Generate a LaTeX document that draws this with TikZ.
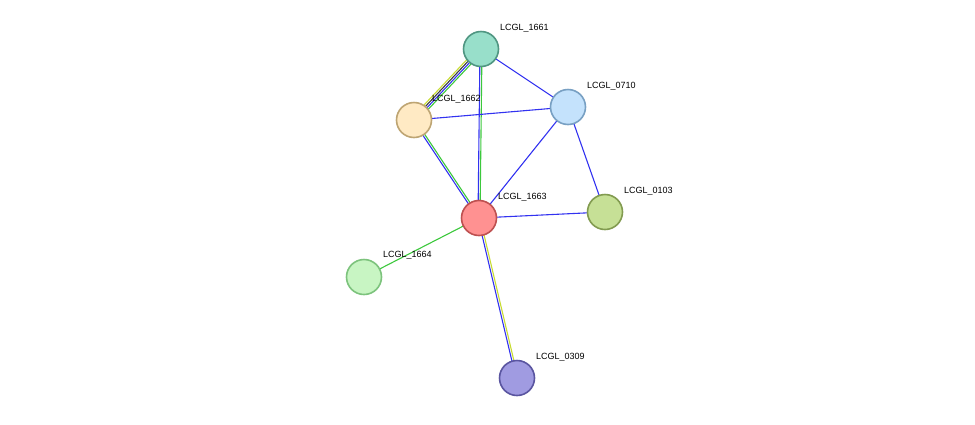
\documentclass[tikz,border=0pt]{standalone}
\usepackage{fontspec}
\setmainfont{Liberation Sans}
\usetikzlibrary{calc}
\definecolor{eb}{RGB}{50,50,240}
\definecolor{eg}{RGB}{60,200,60}
\definecolor{ey}{RGB}{200,220,50}
\definecolor{ek}{RGB}{60,60,60}
\tikzset{
  prot/.style={circle,minimum size=35pt,inner sep=0pt,line width=1.6pt},
  lab/.style={anchor=west,font=\fontsize{9}{10}\selectfont,inner sep=0pt},
  ed/.style={line width=1.1pt}
}
\newcommand{\medge}[4]{\draw[ed,#4] ($(#1)!#3!90:(#2)$) -- ($(#2)!#3!-90:(#1)$);}
\begin{document}
\begin{tikzpicture}[x=1pt,y=-1pt]
\useasboundingbox (0,0) rectangle (975,424);
\coordinate (c1661) at (481,49);
\coordinate (c1662) at (414,120);
\coordinate (c0710) at (568,107);
\coordinate (c1663) at (479,218);
\coordinate (c0103) at (605,212);
\coordinate (c1664) at (364,277);
\coordinate (c0309) at (517,378);
% edges
\medge{c1661}{c1662}{-3pt}{ey}
\medge{c1661}{c1662}{-1pt}{ek}
\medge{c1661}{c1662}{1pt}{eb}
\medge{c1661}{c1662}{3pt}{eg}
\medge{c1661}{c1663}{-1pt}{eb}
\medge{c1661}{c1663}{1pt}{eg}
\medge{c1661}{c0710}{0pt}{eb}
\medge{c1662}{c0710}{0pt}{eb}
\medge{c1662}{c1663}{-1pt}{eb}
\medge{c1662}{c1663}{1pt}{eg}
\medge{c0710}{c1663}{0pt}{eb}
\medge{c0710}{c0103}{0pt}{eb}
\medge{c1663}{c0103}{0pt}{eb}
\medge{c1663}{c1664}{0pt}{eg}
\medge{c1663}{c0309}{-1pt}{eb}
\medge{c1663}{c0309}{1pt}{ey}
% nodes
\node[prot,fill={rgb,255:red,152;green,223;blue,202},draw={rgb,255:red,80;green,150;blue,130}] (n1661) at (c1661) {};
\node[prot,fill={rgb,255:red,255;green,234;blue,196},draw={rgb,255:red,190;green,165;blue,115}] (n1662) at (c1662) {};
\node[prot,fill={rgb,255:red,196;green,226;blue,252},draw={rgb,255:red,120;green,160;blue,195}] (n0710) at (c0710) {};
\node[prot,fill={rgb,255:red,255;green,145;blue,145},draw={rgb,255:red,190;green,80;blue,80}] (n1663) at (c1663) {};
\node[prot,fill={rgb,255:red,198;green,224;blue,150},draw={rgb,255:red,130;green,155;blue,80}] (n0103) at (c0103) {};
\node[prot,fill={rgb,255:red,200;green,245;blue,195},draw={rgb,255:red,125;green,195;blue,125}] (n1664) at (c1664) {};
\node[prot,fill={rgb,255:red,160;green,155;blue,225},draw={rgb,255:red,90;green,85;blue,160}] (n0309) at (c0309) {};
% labels
\node[lab] (l1661) at (500,28) {LCGL\_1661};
\node[lab] (l1662) at (432,99) {LCGL\_1662};
\node[lab] (l0710) at (587,86) {LCGL\_0710};
\node[lab] (l1663) at (498,197) {LCGL\_1663};
\node[lab] (l0103) at (624,191) {LCGL\_0103};
\node[lab] (l1664) at (383,255) {LCGL\_1664};
\node[lab] (l0309) at (536,357) {LCGL\_0309};
\end{tikzpicture}
\end{document}
